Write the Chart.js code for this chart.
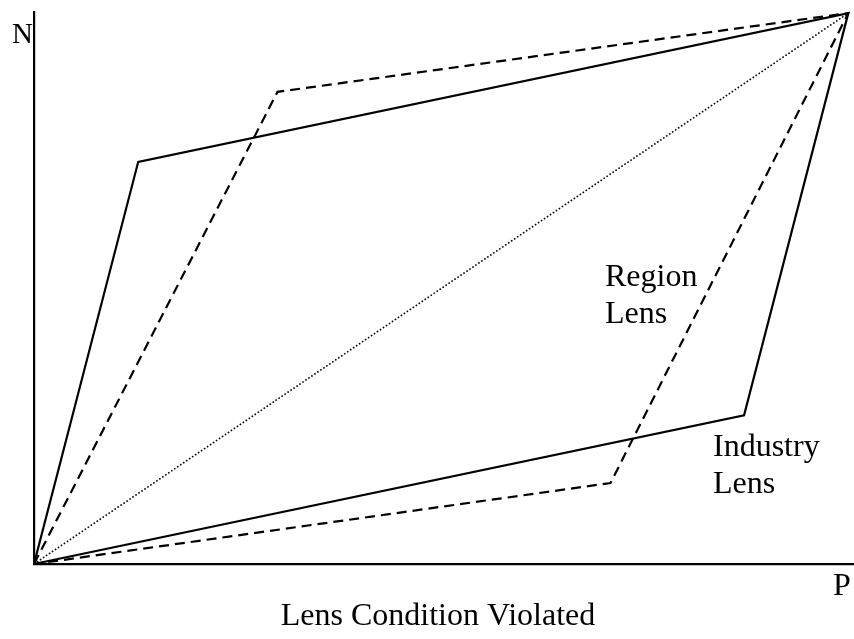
<!DOCTYPE html>
<html>
<head>
<meta charset="utf-8">
<script src="https://cdn.jsdelivr.net/npm/chart.js@4"></script>
<style>
  html, body { margin: 0; padding: 0; background: #fff; }
  #wrap { width: 854px; height: 639px; }
</style>
</head>
<body>
<div id="wrap"><canvas id="lens"></canvas></div>
<script>
// values on a 0-100 scale (P across, N up)
const industryP = [0, 12.8, 100, 87.2, 0];
const industryN = [0, 73.0, 100, 27.0, 0];
const regionP = [0, 29.9, 100, 70.8, 0];
const regionN = [0, 85.7, 100, 14.7, 0];
const diagP = [0, 100];
const diagN = [0, 100];

const toPoints = (xs, ys) => xs.map((x, i) => ({ x: x, y: ys[i] }));

// text drawn on top of the chart
const labelPlugin = {
  id: "labels",
  afterDraw(chart) {
    const ctx = chart.ctx;
    const a = chart.chartArea;
    ctx.save();
    ctx.fillStyle = "#000";
    ctx.textBaseline = "alphabetic";
    ctx.textAlign = "left";
    ctx.font = "29px 'Liberation Serif'";
    ctx.fillText("N", a.left - 22, a.top + 31);
    ctx.font = "32px 'Liberation Serif'";
    ctx.fillText("P", 833, a.bottom + 31);
    ctx.fillText("Region", 605, 286);
    ctx.fillText("Lens", 605, 323);
    ctx.fillText("Industry", 713, 456);
    ctx.fillText("Lens", 713, 493);
    ctx.textAlign = "center";
    ctx.fillText("Lens Condition Violated", 438, 625);
    ctx.restore();
  }
};

const data = {
  datasets: [
    {
      label: "Industry Lens",
      data: toPoints(industryP, industryN),
      borderColor: "#000",
      borderWidth: 2.2,
      showLine: true,
      pointRadius: 0,
      fill: false,
      tension: 0
    },
    {
      label: "Region Lens",
      data: toPoints(regionP, regionN),
      borderColor: "#000",
      borderWidth: 2.2,
      borderDash: [10, 6],
      showLine: true,
      pointRadius: 0,
      fill: false,
      tension: 0
    },
    {
      label: "Diagonal",
      data: toPoints(diagP, diagN),
      borderColor: "#000",
      borderWidth: 1.6,
      borderDash: [1.6, 2],
      showLine: true,
      pointRadius: 0,
      fill: false,
      tension: 0
    }
  ]
};

const config = {
  type: "scatter",
  data: data,
  options: {
    responsive: true,
    maintainAspectRatio: false,
    animation: false,
    clip: false,
    layout: { padding: { left: 34, top: 12, right: 0, bottom: 75 } },
    plugins: {
      legend: { display: false },
      tooltip: { enabled: false }
    },
    scales: {
      x: {
        type: "linear",
        min: 0,
        max: 100.7,
        ticks: { display: false },
        grid: { display: false, drawTicks: false },
        border: { display: true, color: "#000", width: 2.2 }
      },
      y: {
        type: "linear",
        min: 0,
        max: 100.2,
        ticks: { display: false },
        grid: { display: false, drawTicks: false },
        border: { display: true, color: "#000", width: 2.2 }
      }
    }
  },
  plugins: [labelPlugin]
};

let lensChart = new Chart(document.getElementById("lens").getContext("2d"), config);
</script>
</body>
</html>
